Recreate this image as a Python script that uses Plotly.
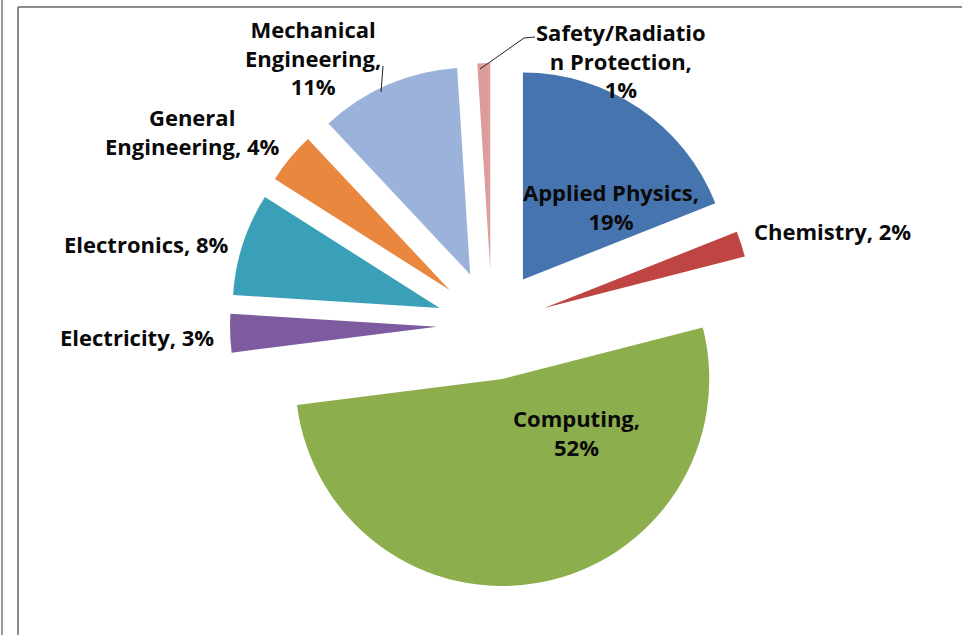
import plotly.graph_objects as go

# ---- data ----
categories = ["Applied Physics", "Chemistry", "Computing", "Electricity",
              "Electronics", "General Engineering", "Mechanical Engineering",
              "Safety/Radiation Protection"]
shares = [19, 2, 52, 3, 8, 4, 11, 1]
colors = ["#4674AE", "#BE4541", "#8DAE4C", "#7C5C9F",
          "#3AA0B8", "#E8873D", "#9BB2DA", "#DC9C9C"]

# display wrapping of each data label (as in the original chart)
label_templates = {
    "Applied Physics": "Applied Physics,<br>{p}%",
    "Chemistry": "Chemistry, {p}%",
    "Computing": "Computing,<br>{p}%",
    "Electricity": "Electricity, {p}%",
    "Electronics": "Electronics, {p}%",
    "General Engineering": "General<br>Engineering, {p}%",
    "Mechanical Engineering": "Mechanical<br>Engineering,<br>{p}%",
    "Safety/Radiation Protection": "Safety/Radiatio<br>n Protection,<br>{p}%",
}

# label centre positions in pixels (layout only)
label_pos = {
    "Applied Physics": (611, 207),
    "Chemistry": (832, 231),
    "Computing": (576, 432),
    "Electricity": (137, 337),
    "Electronics": (146, 244),
    "General Engineering": (192, 131),
    "Mechanical Engineering": (313, 57),
    "Safety/Radiation Protection": (621, 60),
}

W, H = 962, 635


def px(x, y):
    return x / W, 1 - y / H


total = sum(shares)
pcts = [round(100 * v / total) for v in shares]

cx, cy, half = 492, 325, 262
pull = 0.266

fig = go.Figure()
fig.add_trace(go.Pie(
    labels=categories,
    values=shares,
    sort=False,
    direction="clockwise",
    rotation=0,
    pull=[pull] * len(shares),
    marker=dict(colors=colors, line=dict(width=0)),
    textinfo="none",
    hoverinfo="skip",
    showlegend=False,
    domain=dict(x=[(cx - half) / W, (cx + half) / W],
                y=[1 - (cy + half) / H, 1 - (cy - half) / H]),
))

annotations = []
for cat, p in zip(categories, pcts):
    x, y = px(*label_pos[cat])
    annotations.append(dict(
        x=x, y=y, xref="paper", yref="paper",
        text=label_templates[cat].format(p=p),
        showarrow=False, xanchor="center", yanchor="middle", align="center",
        font=dict(family="Open Sans", size=22, color="#0a0a0a", weight="bold"),
    ))

frame = dict(color="#8c8c8c", width=2)
shapes = [
    dict(type="line", xref="paper", yref="paper",
         x0=18 / W, x1=18 / W, y0=0, y1=1 - 7 / H, line=frame),
    dict(type="line", xref="paper", yref="paper",
         x0=18 / W, x1=1, y0=1 - 7 / H, y1=1 - 7 / H, line=frame),
    dict(type="line", xref="paper", yref="paper",
         x0=2 / W, x1=2 / W, y0=0, y1=1, line=dict(color="#9a9a9a", width=2)),
]

# leader lines
a = px(383, 66); b = px(381, 92)
shapes.append(dict(type="line", xref="paper", yref="paper",
                   x0=a[0], y0=a[1], x1=b[0], y1=b[1],
                   line=dict(color="#222222", width=1)))
p1 = px(480, 69); p2 = px(524, 38); p3 = px(535, 37)
shapes.append(dict(type="path", xref="paper", yref="paper",
                   path=f"M {p1[0]} {p1[1]} L {p2[0]} {p2[1]} L {p3[0]} {p3[1]}",
                   line=dict(color="#222222", width=1)))

fig.update_layout(
    width=W, height=H,
    margin=dict(l=0, r=0, t=0, b=0),
    paper_bgcolor="white",
    plot_bgcolor="white",
    annotations=annotations,
    shapes=shapes,
)

fig.write_html("out.html",
               config={"displayModeBar": False},
               post_script="document.body.style.margin='0';document.body.style.padding='0';")
